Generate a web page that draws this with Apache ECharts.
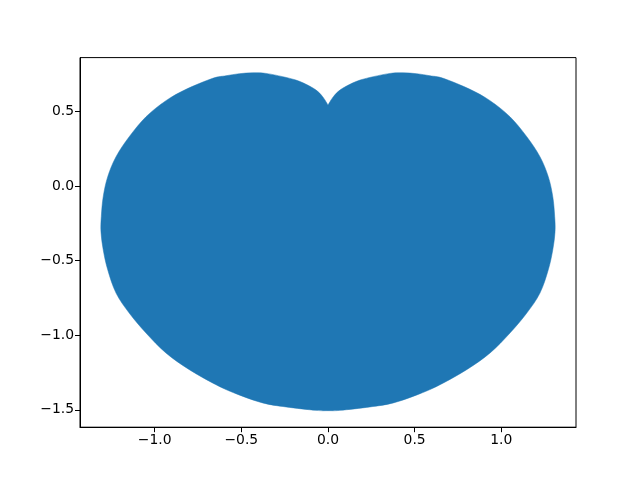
<!DOCTYPE html>
<html><head><meta charset="utf-8">
<script src="https://cdn.jsdelivr.net/npm/echarts@6/dist/echarts.min.js"></script>
<style>html,body{margin:0;padding:0;background:#fff}#c{width:640px;height:480px}</style>
</head><body><div id="c"></div>
<script>
// Outline of the filled shape, going clockwise from the top cusp
const outlineX = [0, 0.031, 0.069, 0.127, 0.185, 0.261, 0.358, 0.434, 0.512, 0.589, 0.665, 0.819, 0.935, 1.050, 1.147, 1.223, 1.271, 1.297, 1.308, 1.310, 1.297, 1.271, 1.223, 1.147, 1.050, 0.935, 0.800, 0.646, 0.531, 0.377, 0.242, 0.069,
  0,
  -0.069, -0.242, -0.377, -0.531, -0.646, -0.800, -0.935, -1.050, -1.147, -1.223, -1.271, -1.297, -1.310, -1.308, -1.297, -1.271, -1.223, -1.147, -1.050, -0.935, -0.819, -0.665, -0.589, -0.512, -0.434, -0.358, -0.261, -0.185, -0.127, -0.069, -0.031];
const outlineY = [0.545, 0.601, 0.645, 0.684, 0.712, 0.735, 0.757, 0.761, 0.755, 0.741, 0.724, 0.650, 0.574, 0.466, 0.332, 0.198, 0.064, -0.070, -0.204, -0.306, -0.427, -0.561, -0.717, -0.851, -0.985, -1.119, -1.231, -1.332, -1.392, -1.454, -1.481, -1.504,
  -1.506,
  -1.504, -1.481, -1.454, -1.392, -1.332, -1.231, -1.119, -0.985, -0.851, -0.717, -0.561, -0.427, -0.306, -0.204, -0.070, 0.064, 0.198, 0.332, 0.466, 0.574, 0.650, 0.724, 0.741, 0.755, 0.761, 0.757, 0.735, 0.712, 0.684, 0.645, 0.601];
const xTicks = [-1.0, -0.5, 0.0, 0.5, 1.0];
const yTicks = [-1.5, -1.0, -0.5, 0.0, 0.5];

const data = outlineX.map((x, i) => [x, outlineY[i]]);
const fmt = v => (v < 0 ? '\u2212' : '') + Math.abs(v).toFixed(1);
const font = {fontFamily: 'DejaVu Sans', fontSize: 13.9, color: '#000'};

// smooth outline through the read points, keeping a sharp corner at the cusp
function outlinePath(pts) {
  const p = pts.concat([pts[0]]);
  const n = p.length;
  const f = v => v.toFixed(2);
  let d = 'M' + f(p[0][0]) + ' ' + f(p[0][1]);
  for (let i = 0; i < n - 1; i++) {
    const a = p[Math.max(i - 1, 0)], b = p[i], c = p[i + 1], e = p[Math.min(i + 2, n - 1)];
    const c1 = [b[0] + (c[0] - a[0]) / 6, b[1] + (c[1] - a[1]) / 6];
    const c2 = [c[0] - (e[0] - b[0]) / 6, c[1] - (e[1] - b[1]) / 6];
    d += 'C' + f(c1[0]) + ' ' + f(c1[1]) + ' ' + f(c2[0]) + ' ' + f(c2[1]) + ' ' + f(c[0]) + ' ' + f(c[1]);
  }
  return d + 'Z';
}

const chart = echarts.init(document.getElementById('c'), null, {renderer: 'canvas'});
chart.setOption({
  animation: false,
  backgroundColor: '#fff',
  grid: {left: 80, right: 64, top: 57.6, bottom: 52.8, show: true, borderColor: '#000', borderWidth: 1, backgroundColor: 'transparent'},
  xAxis: {
    type: 'value', min: -1.431, max: 1.431,
    splitLine: {show: false},
    axisLine: {show: true, onZero: false, lineStyle: {color: '#000', width: 1}},
    axisTick: {show: true, length: 5, lineStyle: {color: '#000'}, customValues: xTicks},
    axisLabel: Object.assign({margin: 6, formatter: fmt, customValues: xTicks}, font)
  },
  yAxis: {
    type: 'value', min: -1.617, max: 0.863,
    splitLine: {show: false},
    axisLine: {show: true, onZero: false, lineStyle: {color: '#000', width: 1}},
    axisTick: {show: true, length: 5, lineStyle: {color: '#000'}, customValues: yTicks},
    axisLabel: Object.assign({margin: 6, formatter: fmt, customValues: yTicks}, font)
  },
  series: [{
    type: 'custom',
    coordinateSystem: 'cartesian2d',
    data: [0],
    renderItem: function (params, api) {
      const pts = data.map(p => api.coord(p));
      return {type: 'path', shape: {pathData: outlinePath(pts)}, style: {fill: '#1f77b4', stroke: '#1f77b4', lineWidth: 0.5}};
    },
    encode: {x: -1, y: -1}
  }]
});
</script></body></html>
